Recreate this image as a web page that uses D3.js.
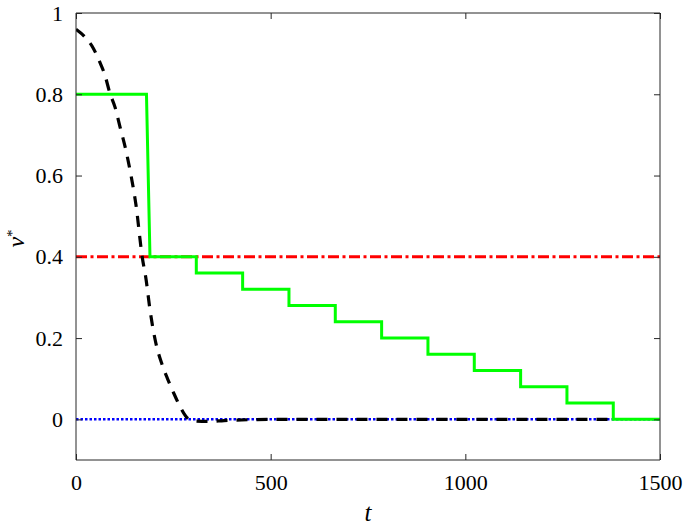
<!DOCTYPE html>
<html>
<head>
<meta charset="utf-8">
<script src="https://cdn.jsdelivr.net/npm/d3@7"></script>
<style>
  html, body { margin: 0; padding: 0; background: #fff; }
  svg { display: block; }
  svg text { font-family: 'Liberation Serif', 'Times New Roman', Times, serif !important; fill: #000; }
</style>
</head>
<body>
<svg id="chart" width="685" height="526"></svg>
<script>
// ---- data ----
const xTicks = [0, 500, 1000, 1500];
const yTicks = [0, 0.2, 0.4, 0.6, 0.8, 1];
const yTickLabels = ["0", "0.2", "0.4", "0.6", "0.8", "1"];

// black dashed curve
const blackT = [0, 23, 44, 62, 74, 87, 100, 113, 128, 141, 154, 170, 180, 190, 203, 221, 236, 249, 267, 288, 306, 344, 380, 440, 500, 800, 1100, 1380];
const blackV = [0.96, 0.941, 0.914, 0.877, 0.848, 0.803, 0.769, 0.72, 0.663, 0.602, 0.528, 0.40, 0.344, 0.27, 0.197, 0.135, 0.098, 0.069, 0.032, 0.002, -0.004, -0.005, -0.003, -0.001, 0, 0, 0, 0];

// green step curve
const greenT = [0, 181, 190, 309, 309, 428, 428, 547, 547, 666, 666, 785, 785, 904, 904, 1023, 1023, 1142, 1142, 1261, 1261, 1380, 1380, 1500];
const greenV = [0.8, 0.8, 0.4, 0.4, 0.36, 0.36, 0.32, 0.32, 0.28, 0.28, 0.24, 0.24, 0.2, 0.2, 0.16, 0.16, 0.12, 0.12, 0.08, 0.08, 0.04, 0.04, 0, 0];

// red constant line
const redT = [0, 1500];
const redV = [0.4, 0.4];

// blue dotted line
const blueT = [0, 1500];
const blueV = [0, 0];

// ---- layout ----
const L = 76, R = 660, T = 13, B = 460;
const svg = d3.select("#chart");
const x = d3.scaleLinear().domain([0, 1500]).range([L, R]);
const y = d3.scaleLinear().domain([-0.1, 1]).range([B, T]);

const zip = (ts, vs) => ts.map((t, i) => [t, vs[i]]);
const line = d3.line().x(d => x(d[0])).y(d => y(d[1]));

const plot = svg.append("g");
plot.append("clipPath").attr("id", "clip").append("rect")
  .attr("x", L).attr("y", T).attr("width", R - L).attr("height", B - T);
const g = plot.append("g").attr("clip-path", "url(#clip)");

g.append("path").datum(zip(blueT, blueV)).attr("d", line)
  .attr("fill", "none").attr("stroke", "#0000ff").attr("stroke-width", 2.5)
  .attr("stroke-dasharray", "2.5,2");
g.append("path").datum(zip(redT, redV)).attr("d", line)
  .attr("fill", "none").attr("stroke", "#ff0000").attr("stroke-width", 3)
  .attr("stroke-dasharray", "11,3.5,3,3.5");
g.append("path").datum(zip(greenT, greenV)).attr("d", line)
  .attr("fill", "none").attr("stroke", "#00ff00").attr("stroke-width", 3);
g.append("path").datum(zip(blackT, blackV)).attr("d", line.curve(d3.curveMonotoneX))
  .attr("fill", "none").attr("stroke", "#000").attr("stroke-width", 3.2)
  .attr("stroke-dasharray", "11,9");

// ---- axes ----
const axisColor = "#262626";
const axB = svg.append("g").attr("transform", `translate(0,${B})`)
  .call(d3.axisBottom(x).tickValues(xTicks).tickSizeInner(-6).tickSizeOuter(0).tickPadding(14).tickFormat(d3.format("d")));
const axT = svg.append("g").attr("transform", `translate(0,${T})`)
  .call(d3.axisTop(x).tickValues(xTicks).tickSizeInner(-6).tickSizeOuter(0).tickFormat(""));
const axL = svg.append("g").attr("transform", `translate(${L},0)`)
  .call(d3.axisLeft(y).tickValues(yTicks).tickSizeInner(-6).tickSizeOuter(0).tickPadding(13)
    .tickFormat((d, i) => yTickLabels[i]));
const axR = svg.append("g").attr("transform", `translate(${R},0)`)
  .call(d3.axisRight(y).tickValues(yTicks).tickSizeInner(-6).tickSizeOuter(0).tickFormat(""));

[axB, axT, axL, axR].forEach(a => {
  a.attr("font-family", null);
  a.select(".domain").attr("stroke", axisColor).attr("stroke-width", 1);
  a.selectAll(".tick line").attr("stroke", axisColor).attr("stroke-width", 1);
  a.selectAll(".tick text").attr("font-size", 22).attr("fill", "#000");
});
axB.select(".domain").attr("d", `M${L},0H${R}`);
axT.select(".domain").attr("d", `M${L},0H${R}`);
axL.select(".domain").attr("d", `M0,${T}V${B}`);
axR.select(".domain").attr("d", `M0,${T}V${B}`);

// ---- labels ----
svg.append("text").attr("x", (L + R) / 2).attr("y", 521)
  .attr("text-anchor", "middle").attr("font-size", 25).attr("font-style", "italic").text("t");

const yl = svg.append("text").attr("transform", `translate(24,${(T + B) / 2 + 2}) rotate(-90)`)
  .attr("text-anchor", "middle").attr("font-size", 24);
yl.append("tspan").attr("font-style", "italic").text("v");
yl.append("tspan").attr("font-size", 15).attr("dy", -7).text("*");
</script>
</body>
</html>
